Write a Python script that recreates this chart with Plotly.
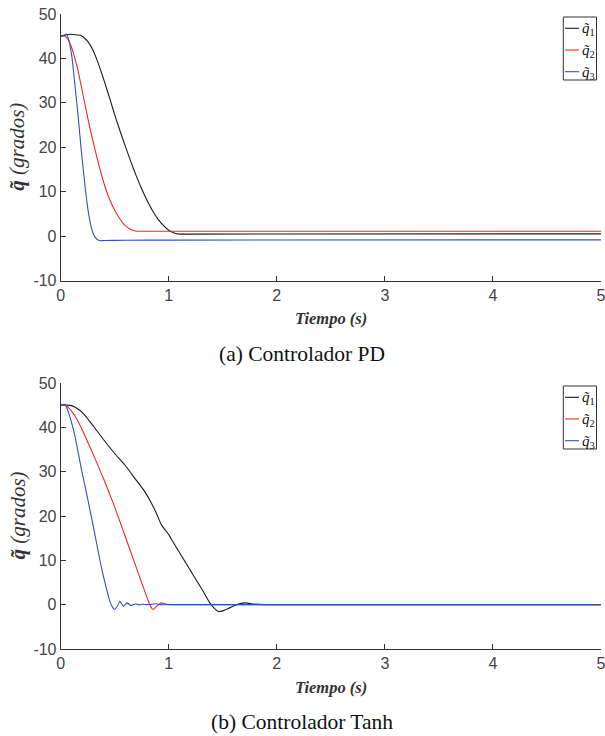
import plotly.graph_objects as go

# ---------------- data ----------------
x_ticks = [0, 1, 2, 3, 4, 5]
y_ticks = [-10, 0, 10, 20, 30, 40, 50]
y_tick_text = ["-10", "0", "10", "20", "30", "40", "50"]
series_names = ["q\u0303<sub>1</sub>", "q\u0303<sub>2</sub>", "q\u0303<sub>3</sub>"]
captions = ["(a) Controlador PD", "(b) Controlador Tanh"]

# (a) PD controller
t_pd_q1 = [0, 0.03, 0.07, 0.12, 0.18, 0.22, 0.26, 0.30, 0.34, 0.38, 0.42, 0.46, 0.50, 0.55,
           0.60, 0.65, 0.70, 0.75, 0.80, 0.85, 0.90, 0.95, 1.00, 1.05, 1.1, 1.2, 5]
pd_q1 = [45, 45.2, 45.4, 45.4, 45.2, 44.6, 43.5, 41.8, 39.4, 36.6, 33.6, 30.5, 27.3, 23.6,
         20.1, 16.7, 13.5, 10.6, 8.0, 5.7, 3.8, 2.4, 1.3, 0.7, 0.45, 0.45, 0.5]

t_pd_q2 = [0, 0.04, 0.07, 0.1, 0.13, 0.16, 0.19, 0.22, 0.26, 0.29, 0.32, 0.35, 0.38, 0.41, 0.45,
           0.5, 0.55, 0.59, 0.64, 0.69, 0.75, 5]
pd_q2 = [45, 45, 44.2, 42.5, 40.2, 37.3, 33.8, 30.2, 25.5, 22.3, 19.2, 16.3, 13.6, 11.1, 8.4,
         5.8, 3.8, 2.5, 1.6, 1.15, 1.1, 1.1]

t_pd_q3 = [0, 0.03, 0.055, 0.07, 0.1, 0.132, 0.163, 0.19, 0.224, 0.255, 0.28, 0.3, 0.33, 0.363,
           0.4, 0.6, 1, 5]
pd_q3 = [45, 45.1, 45.5, 44.5, 41, 34.0, 26.5, 19.4, 11.5, 5.5, 2.3, 0.6, -0.6, -1.05,
         -1.0, -0.95, -0.9, -0.85]

# (b) Tanh controller
t_th_q1 = [0, 0.05, 0.1, 0.13, 0.18, 0.224, 0.27, 0.317, 0.41, 0.5, 0.594, 0.686, 0.778, 0.84,
           0.87, 0.9, 0.932, 1.0, 1.055, 1.178, 1.3, 1.38, 1.42, 1.455, 1.5, 1.55, 1.61, 1.67,
           1.72, 1.76, 1.9, 5]
th_q1 = [45, 45, 44.9, 44.6, 43.8, 42.7, 41.3, 39.8, 36.8, 34.1, 31.5, 28.5, 25.5, 22.9,
         21.4, 19.8, 18.0, 15.8, 13.5, 8.6, 3.75, 0.4, -0.8, -1.5, -1.4, -0.9, -0.2, 0.3,
         0.4, 0.2, 0, 0]

t_th_q2 = [0, 0.04, 0.08, 0.13, 0.18, 0.224, 0.255, 0.317, 0.41, 0.486, 0.5, 0.594, 0.686,
           0.778, 0.81, 0.835, 0.855, 0.886, 0.93, 0.97, 1.05, 5]
th_q2 = [45, 45, 44.3, 42.6, 40.4, 38.1, 36.4, 33.0, 27.6, 22.9, 22.0, 15.6, 9.3,
         3.0, 0.9, -0.5, -1.1, -0.4, 0.4, 0.15, 0, 0]

t_th_q3 = [0, 0.04, 0.07, 0.13, 0.19, 0.255, 0.317, 0.378, 0.43, 0.455, 0.48, 0.5, 0.525,
           0.548, 0.565, 0.58, 0.6, 0.618, 0.637, 0.655, 0.68, 0.70, 0.73, 0.76, 0.8, 0.85,
           0.88, 0.92, 1.0, 5]
th_q3 = [45, 45.2, 43.5, 38.25, 30.75, 23.25, 15.75, 8.25, 3.0, 0.75, -0.6, -1.1, -0.3,
         0.75, 0.2, -0.4, 0.1, 0.4, 0.0, -0.2, 0.1, 0.15, -0.05, 0.1, 0, 0.1, 0.2, 0, 0, 0]

colors = ["#1a1a1a", "#ea2a22", "#3550b5"]

# ---------------- layout helpers ----------------
W, H = 605, 736
def px(x):
    return x / W
def py(y):
    return 1 - y / H

x_dom = [px(60.7), px(601)]
y_dom_top = [py(280.5), py(14)]
y_dom_bot = [py(649), py(383)]

fig = go.Figure()

panels = [
    ("x", "y", [(t_pd_q1, pd_q1), (t_pd_q2, pd_q2), (t_pd_q3, pd_q3)]),
    ("x2", "y2", [(t_th_q1, th_q1), (t_th_q2, th_q2), (t_th_q3, th_q3)]),
]
for xa, ya, data in panels:
    for i, (tt, vv) in enumerate(data):
        fig.add_trace(go.Scatter(x=tt, y=vv, mode="lines", xaxis=xa, yaxis=ya,
                                 line=dict(color=colors[i], width=1.1, shape="spline", smoothing=0.5),
                                 name=series_names[i], showlegend=False))

axis_common = dict(showline=True, linecolor="#333333", linewidth=1, ticks="inside",
                   ticklen=5, tickcolor="#333333", tickwidth=1, showgrid=False,
                   zeroline=False, mirror=False, ticklabeloverflow="allow", automargin=False,
                   tickfont=dict(family="Liberation Sans, Arial", size=16, color="#444444"))

fig.update_layout(
    template="none",
    width=W, height=H, margin=dict(l=0, r=0, t=0, b=0, pad=0),
    paper_bgcolor="white", plot_bgcolor="white",
    xaxis=dict(domain=x_dom, range=[0, 5], tickvals=x_ticks, anchor="y", **axis_common),
    yaxis=dict(domain=y_dom_top, range=[-10, 50], tickvals=y_ticks, ticktext=y_tick_text,
               anchor="x", **axis_common),
    xaxis2=dict(domain=x_dom, range=[0, 5], tickvals=x_ticks, anchor="y2", **axis_common),
    yaxis2=dict(domain=y_dom_bot, range=[-10, 50], tickvals=y_ticks, ticktext=y_tick_text,
                anchor="x2", **axis_common),
)

annotations = []
shapes = []
serif = "Liberation Serif, Times New Roman, serif"
for k, (axis_bottom, axis_top) in enumerate([(280.5, 14), (649, 383)]):
    annotations.append(dict(text="<b><i>Tiempo (s)</i></b>", xref="paper", yref="paper",
                            x=px(331), y=py(axis_bottom + 38), xanchor="center", yanchor="middle",
                            showarrow=False, font=dict(family=serif, size=16.5, color="#333333")))
    annotations.append(dict(text="<b><i>q\u0303</i></b> <i>(grados)</i>", xref="paper", yref="paper",
                            x=px(17.5), y=py((axis_bottom + axis_top) / 2), textangle=-90,
                            xanchor="center", yanchor="middle", showarrow=False,
                            font=dict(family=serif, size=21, color="#333333")))
    annotations.append(dict(text=captions[k], xref="paper", yref="paper",
                            x=px(302), y=py(axis_bottom + 73), xanchor="center", yanchor="middle",
                            showarrow=False, font=dict(family=serif, size=21.5, color="#111111")))
    top = axis_top + 3
    shapes.append(dict(type="rect", xref="paper", yref="paper",
                       x0=px(563.3), x1=px(596.5), y0=py(top), y1=py(top + 63),
                       line=dict(color="#333333", width=1), fillcolor="white", layer="above"))
    for i in range(3):
        yc = top + 11.3 + 21.7 * i
        shapes.append(dict(type="line", xref="paper", yref="paper",
                           x0=px(565), x1=px(579), y0=py(yc), y1=py(yc),
                           line=dict(color=colors[i], width=1.1), layer="above"))
        annotations.append(dict(text="<i>" + series_names[i].replace("<sub>", "</i><sub>"),
                                xref="paper", yref="paper", x=px(579.5), y=py(yc + 1),
                                xanchor="left", yanchor="middle", showarrow=False,
                                font=dict(family=serif, size=15, color="#111111")))

fig.update_layout(annotations=annotations, shapes=shapes)
fig.write_html("out.html")
